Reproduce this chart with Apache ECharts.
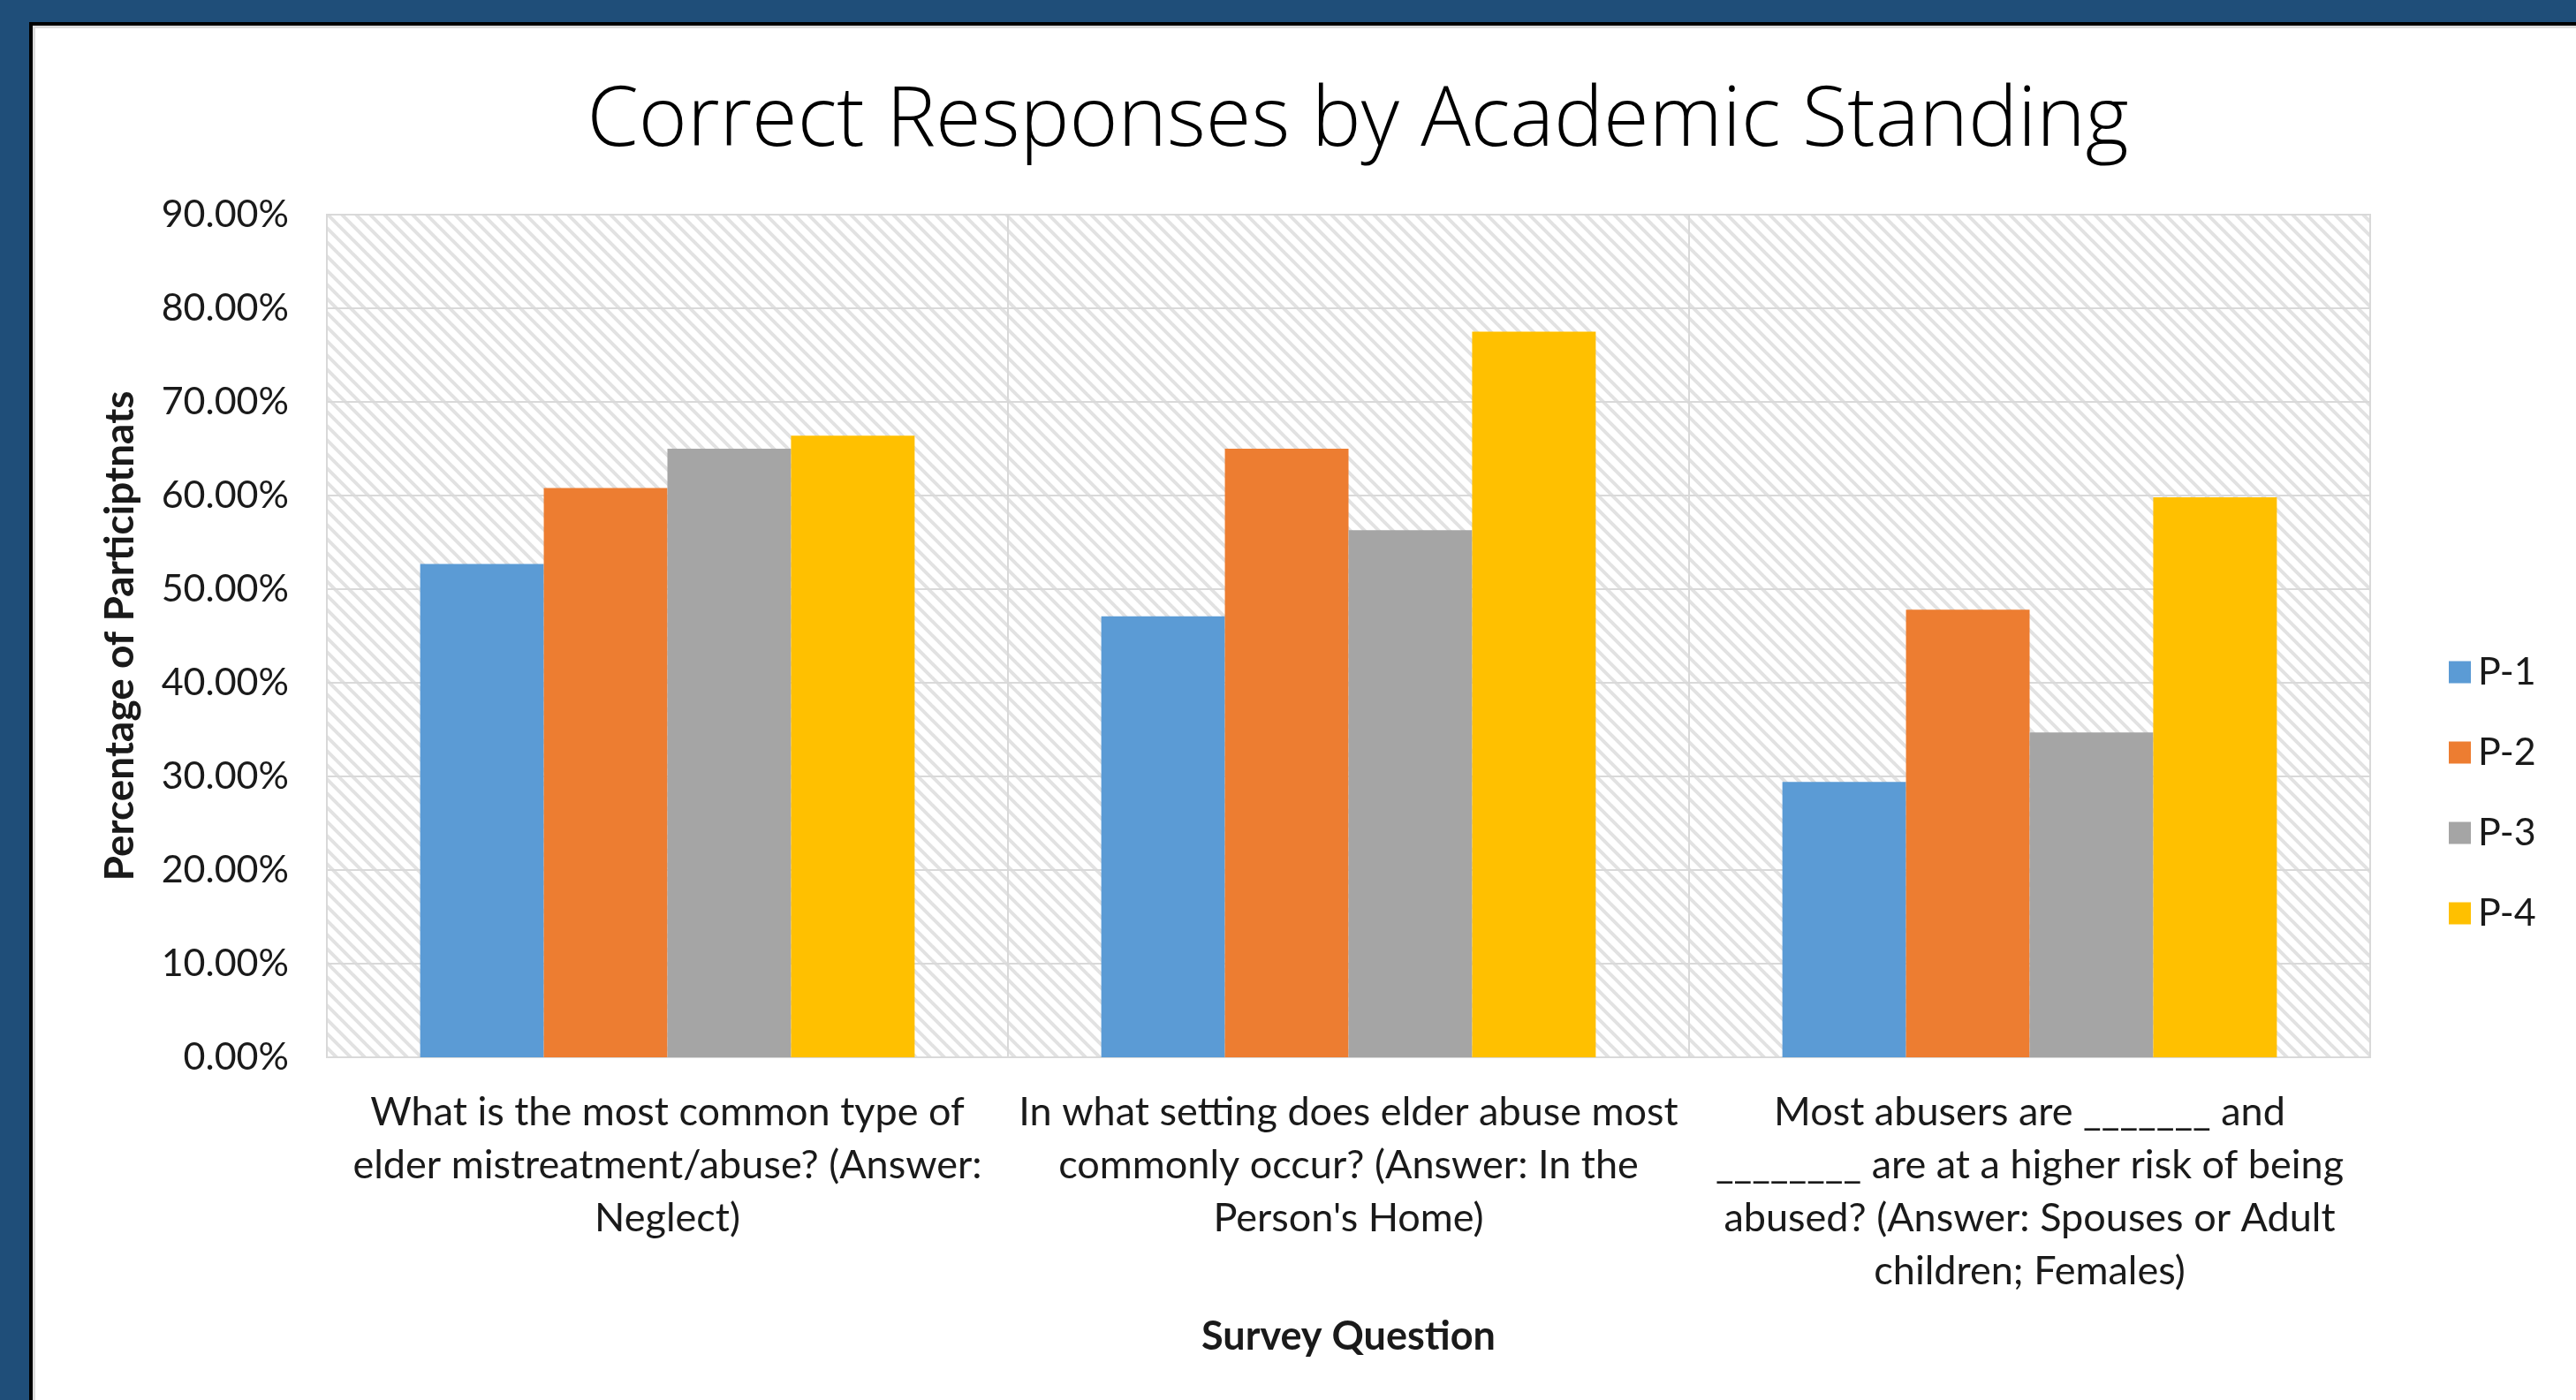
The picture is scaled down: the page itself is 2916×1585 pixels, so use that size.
<!DOCTYPE html>
<html>
<head>
<meta charset="utf-8">
<script src="https://cdn.jsdelivr.net/npm/echarts@6/dist/echarts.min.js"></script>
<style>
html,body{margin:0;padding:0;background:#fff;}
#chart{width:2916px;height:1585px;}
</style>
</head>
<body>
<div id="chart"></div>
<script>
const categories = [
  "What is the most common type of\nelder mistreatment/abuse? (Answer:\nNeglect)",
  "In what setting does elder abuse most\ncommonly occur? (Answer: In the\nPerson's Home)",
  "Most abusers are _______ and\n________ are at a higher risk of being\nabused? (Answer: Spouses or Adult\nchildren; Females)"
];
const seriesNames = ["P-1", "P-2", "P-3", "P-4"];
const p1 = [52.7, 47.1, 29.4];
const p2 = [60.8, 65.0, 47.8];
const p3 = [65.0, 56.3, 34.7];
const p4 = [66.4, 77.5, 59.8];
const colors = ["#5B9BD5", "#ED7D31", "#A5A5A5", "#FFC000"];

// diagonal hatch pattern for the plot background
function makeHatch() {
  const s = 16;
  const c = document.createElement('canvas');
  c.width = s; c.height = s;
  const g = c.getContext('2d');
  g.fillStyle = '#ffffff';
  g.fillRect(0, 0, s, s);
  g.strokeStyle = '#e2e2e2';
  g.lineWidth = 4;
  for (let k = -1; k <= 1; k++) {
    g.beginPath();
    g.moveTo(k * s - 2, -2);
    g.lineTo(k * s + s + 2, s + 2);
    g.stroke();
  }
  return c;
}

const chart = echarts.init(document.getElementById('chart'), null, {renderer: 'canvas'});
const fontBody = 'Lato, "Open Sans", sans-serif';
const allData = [p1, p2, p3, p4];

chart.setOption({
  backgroundColor: '#ffffff',
  animation: false,
  color: colors,
  title: {
    text: 'Correct Responses by Academic Standing',
    left: 1532,
    top: 86,
    textAlign: 'center',
    textStyle: {
      fontFamily: '"Open Sans", Lato, sans-serif',
      fontWeight: 300,
      fontSize: 94,
      color: '#000000'
    }
  },
  graphic: [
    {type: 'rect', z: -10, shape: {x: 0, y: 0, width: 2916, height: 25}, style: {fill: '#1F4E79'}},
    {type: 'rect', z: -10, shape: {x: 0, y: 0, width: 33, height: 1585}, style: {fill: '#1F4E79'}},
    {type: 'rect', z: -10, shape: {x: 33, y: 25, width: 2883, height: 4}, style: {fill: '#000000'}},
    {type: 'rect', z: -10, shape: {x: 33, y: 25, width: 4, height: 1560}, style: {fill: '#000000'}},
    {type: 'rect', z: -10, shape: {x: 37, y: 29, width: 2879, height: 3}, style: {fill: '#dcdcdc'}},
    {type: 'rect', z: -10, shape: {x: 37, y: 29, width: 3, height: 1556}, style: {fill: '#dcdcdc'}}
  ],
  legend: {
    orient: 'vertical',
    left: 2767,
    top: 731,
    itemWidth: 25,
    itemHeight: 25,
    itemGap: 41,
    icon: 'rect',
    data: seriesNames,
    textStyle: {
      fontFamily: fontBody,
      fontSize: 43,
      lineHeight: 50,
      color: '#1a1a1a',
      padding: [0, 0, 0, 3]
    }
  },
  grid: {
    left: 370,
    right: 233,
    top: 243,
    bottom: 388,
    show: true,
    borderColor: '#d9d9d9',
    borderWidth: 2,
    backgroundColor: {image: makeHatch(), repeat: 'repeat'},
    containLabel: false
  },
  xAxis: {
    type: 'category',
    data: categories,
    name: 'Survey Question',
    nameLocation: 'middle',
    nameGap: 294,
    nameMoveOverlap: false,
    nameTextStyle: {
      fontFamily: fontBody,
      fontWeight: 'bold',
      fontSize: 45,
      color: '#1a1a1a'
    },
    axisLine: {show: true, lineStyle: {color: '#d9d9d9', width: 2}},
    axisTick: {show: false},
    splitLine: {show: true, interval: 0, lineStyle: {color: '#d9d9d9', width: 2}},
    axisLabel: {
      interval: 0,
      margin: 32,
      fontFamily: fontBody,
      fontSize: 45,
      lineHeight: 60,
      color: '#1a1a1a',
      align: 'center',
      verticalAlign: 'top'
    }
  },
  yAxis: {
    type: 'value',
    min: 0,
    max: 90,
    interval: 10,
    name: 'Percentage of Participtnats',
    nameLocation: 'middle',
    nameRotate: 90,
    nameGap: 211,
    nameMoveOverlap: false,
    nameTextStyle: {
      fontFamily: fontBody,
      fontWeight: 'bold',
      fontSize: 46,
      color: '#1a1a1a'
    },
    axisLine: {show: false},
    axisTick: {show: false},
    splitLine: {show: true, lineStyle: {color: '#d9d9d9', width: 2}},
    axisLabel: {
      margin: 43,
      fontFamily: fontBody,
      fontSize: 43,
      color: '#1a1a1a',
      formatter: function (v) { return v.toFixed(2) + '%'; }
    }
  },
  series: seriesNames.map(function (name, i) {
    return {
      name: name,
      type: 'bar',
      data: allData[i],
      barGap: '0%',
      barCategoryGap: '27.4%',
      itemStyle: {color: colors[i]}
    };
  })
});
</script>
</body>
</html>
